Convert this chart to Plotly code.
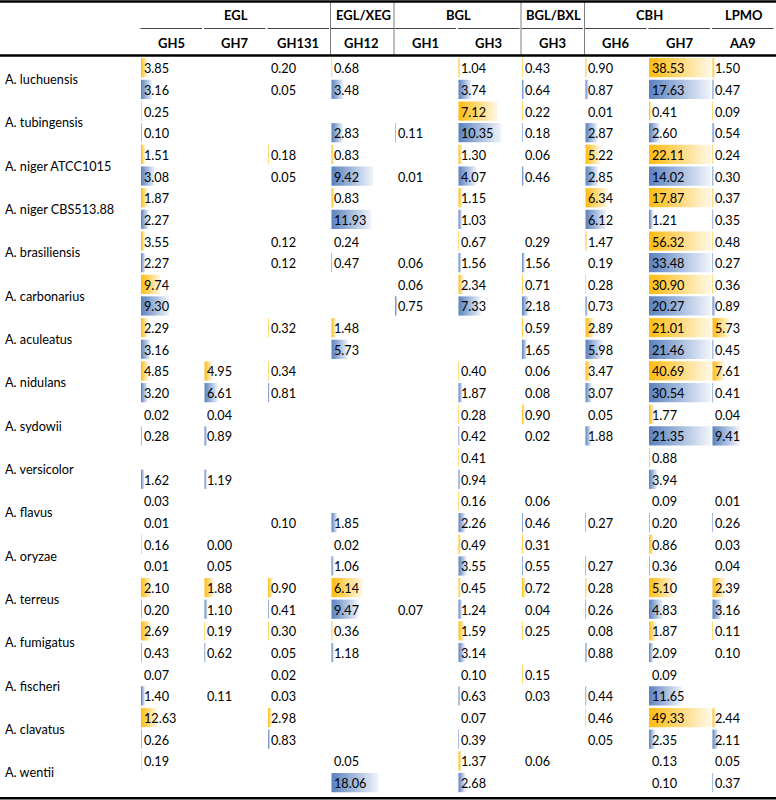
import plotly.graph_objects as go

# ---------------- data ----------------
species = ["A. luchuensis", "A. tubingensis", "A. niger ATCC1015", "A. niger CBS513.88",
           "A. brasiliensis", "A. carbonarius", "A. aculeatus", "A. nidulans", "A. sydowii",
           "A. versicolor", "A. flavus", "A. oryzae", "A. terreus", "A. fumigatus",
           "A. fischeri", "A. clavatus", "A. wentii"]
families = ["GH5", "GH7", "GH131", "GH12", "GH1", "GH3", "GH3", "GH6", "GH7", "AA9"]
group_names = ["EGL", "EGL/XEG", "BGL", "BGL/BXL", "CBH", "LPMO"]
group_spans = [3, 1, 2, 1, 2, 1]

N = None
# first (yellow) row of each species
vals_yellow = [
    [3.85, N, 0.20, 0.68, N, 1.04, 0.43, 0.90, 38.53, 1.50],
    [0.25, N, N, N, N, 7.12, 0.22, 0.01, 0.41, 0.09],
    [1.51, N, 0.18, 0.83, N, 1.30, 0.06, 5.22, 22.11, 0.24],
    [1.87, N, N, 0.83, N, 1.15, N, 6.34, 17.87, 0.37],
    [3.55, N, 0.12, 0.24, N, 0.67, 0.29, 1.47, 56.32, 0.48],
    [9.74, N, N, N, 0.06, 2.34, 0.71, 0.28, 30.90, 0.36],
    [2.29, N, 0.32, 1.48, N, N, 0.59, 2.89, 21.01, 5.73],
    [4.85, 4.95, 0.34, N, N, 0.40, 0.06, 3.47, 40.69, 7.61],
    [0.02, 0.04, N, N, N, 0.28, 0.90, 0.05, 1.77, 0.04],
    [N, N, N, N, N, 0.41, N, N, 0.88, N],
    [0.03, N, N, N, N, 0.16, 0.06, N, 0.09, 0.01],
    [0.16, 0.00, N, 0.02, N, 0.49, 0.31, N, 0.86, 0.03],
    [2.10, 1.88, 0.90, 6.14, N, 0.45, 0.72, 0.28, 5.10, 2.39],
    [2.69, 0.19, 0.30, 0.36, N, 1.59, 0.25, 0.08, 1.87, 0.11],
    [0.07, N, 0.02, N, N, 0.10, 0.15, N, 0.09, N],
    [12.63, N, 2.98, N, N, 0.07, N, 0.46, 49.33, 2.44],
    [0.19, N, N, 0.05, N, 1.37, 0.06, N, 0.13, 0.05],
]
# second (blue) row of each species
vals_blue = [
    [3.16, N, 0.05, 3.48, N, 3.74, 0.64, 0.87, 17.63, 0.47],
    [0.10, N, N, 2.83, 0.11, 10.35, 0.18, 2.87, 2.60, 0.54],
    [3.08, N, 0.05, 9.42, 0.01, 4.07, 0.46, 2.85, 14.02, 0.30],
    [2.27, N, N, 11.93, N, 1.03, N, 6.12, 1.21, 0.35],
    [2.27, N, 0.12, 0.47, 0.06, 1.56, 1.56, 0.19, 33.48, 0.27],
    [9.30, N, N, N, 0.75, 7.33, 2.18, 0.73, 20.27, 0.89],
    [3.16, N, N, 5.73, N, N, 1.65, 5.98, 21.46, 0.45],
    [3.20, 6.61, 0.81, N, N, 1.87, 0.08, 3.07, 30.54, 0.41],
    [0.28, 0.89, N, N, N, 0.42, 0.02, 1.88, 21.35, 9.41],
    [1.62, 1.19, N, N, N, 0.94, N, N, 3.94, N],
    [0.01, N, 0.10, 1.85, N, 2.26, 0.46, 0.27, 0.20, 0.26],
    [0.01, 0.05, N, 1.06, N, 3.55, 0.55, 0.27, 0.36, 0.04],
    [0.20, 1.10, 0.41, 9.47, 0.07, 1.24, 0.04, 0.26, 4.83, 3.16],
    [0.43, 0.62, 0.05, 1.18, N, 3.14, N, 0.88, 2.09, 0.10],
    [1.40, 0.11, 0.03, N, N, 0.63, 0.03, 0.44, 11.65, N],
    [0.26, N, 0.83, N, N, 0.39, N, 0.05, 2.35, 2.11],
    [N, N, N, 18.06, N, 2.68, N, N, 0.10, 0.37],
]
# value that fills a whole cell with a data bar (estimated per row)
bar_max_yellow = [38.53, 11.3, 22.11, 17.87, 56.32, 30.90, 21.01, 40.69, 22.0, 40.0,
                  20.0, 13.0, 12.3, 17.0, 20.0, 49.33, 26.0]
bar_max_blue = [17.63, 15.0, 14.02, 18.5, 33.48, 20.27, 21.46, 30.54, 21.35, 30.0,
                20.0, 27.0, 21.7, 30.0, 22.0, 24.0, 23.8]

# ---------------- layout constants ----------------
W, H = 776, 800
COL0, COLW, BARW = 141.0, 63.5, 62.0
ROW0, ROWH = 56.9, 21.66
FONT = "Lato, Roboto, sans-serif"
GOLD = ("#FFBC10", "#FFF8E6")
BLUE = ("#5A82BF", "#F1F5FB")

col_left = [COL0 + i * COLW for i in range(len(families))]

fig = go.Figure()
annotations = []
shapes = []


def add_bar(x0, length, ytop, colors):
    y0, y1 = ytop + 1.2, ytop + ROWH - 1.2
    fig.add_trace(go.Scatter(
        x=[x0, x0 + length, x0 + length, x0, x0],
        y=[y0, y0, y1, y1, y0],
        mode="lines", line=dict(width=0), fill="toself",
        fillgradient=dict(type="horizontal",
                          colorscale=[[0, colors[0]], [1, colors[1]]]),
        hoverinfo="skip", showlegend=False))


for k, sp in enumerate(species):
    for sub, (vals, mx, colors) in enumerate([(vals_yellow[k], bar_max_yellow[k], GOLD),
                                               (vals_blue[k], bar_max_blue[k], BLUE)]):
        r = 2 * k + sub
        ytop = ROW0 + r * ROWH
        for j, v in enumerate(vals):
            if v is None:
                continue
            L = v / mx * BARW
            if L >= 0.4:
                add_bar(col_left[j], max(min(L, BARW), 1.0), ytop, colors)
            annotations.append(dict(x=col_left[j] + 0.5, y=ytop + ROWH / 2 + 0.5, text=f"{v:.2f}",
                                    xanchor="left", yanchor="middle", showarrow=False,
                                    font=dict(family=FONT, size=12.7, color="#000")))
    annotations.append(dict(x=3, y=ROW0 + (2 * k + 1) * ROWH + 0.5, text=sp, xanchor="left",
                            yanchor="middle", showarrow=False,
                            font=dict(family=FONT, size=12.7, color="#000")))

# column headers
for j, f in enumerate(families):
    annotations.append(dict(x=col_left[j] + 30, y=43, text=f"<b>{f}</b>", showarrow=False,
                            xanchor="center", yanchor="middle",
                            font=dict(family=FONT, size=13, color="#000")))
    shapes.append(dict(type="line", x0=col_left[j] - 0.5, x1=col_left[j] + COLW - 2.5,
                       y0=28.5, y1=28.5, line=dict(color="#444", width=1)))

# group headers
start = 0
for g, span in zip(group_names, group_spans):
    left = col_left[start]
    right = col_left[start + span] if start + span < len(col_left) else W
    annotations.append(dict(x=(left + right) / 2, y=15, text=f"<b>{g}</b>", showarrow=False,
                            xanchor="center", yanchor="middle",
                            font=dict(family=FONT, size=13, color="#000")))
    start += span

# vertical separators in header
for j in [3, 4, 6, 7]:
    xv = col_left[j] - 1
    shapes.append(dict(type="line", x0=xv, x1=xv, y0=2, y1=55,
                       line=dict(color="#7f7f7f", width=1)))
shapes.append(dict(type="line", x0=col_left[3] - 1, x1=col_left[4] - 1, y0=28.5, y1=28.5,
                   line=dict(color="#444", width=1)))

# thick rules
for yv in [1.5, 55.5, 798.3]:
    shapes.append(dict(type="line", x0=0, x1=W, y0=yv, y1=yv,
                       line=dict(color="#000", width=2.5)))

fig.update_layout(
    width=W, height=H, margin=dict(l=0, r=0, t=0, b=0),
    paper_bgcolor="white", plot_bgcolor="white",
    xaxis=dict(range=[0, W], visible=False, fixedrange=True),
    yaxis=dict(range=[H, 0], visible=False, fixedrange=True),
    annotations=annotations, shapes=shapes, hovermode=False, showlegend=False,
)
fig.write_html("out.html", config={"displayModeBar": False},
               post_script="document.body.style.margin='0';document.body.style.overflow='hidden';")
